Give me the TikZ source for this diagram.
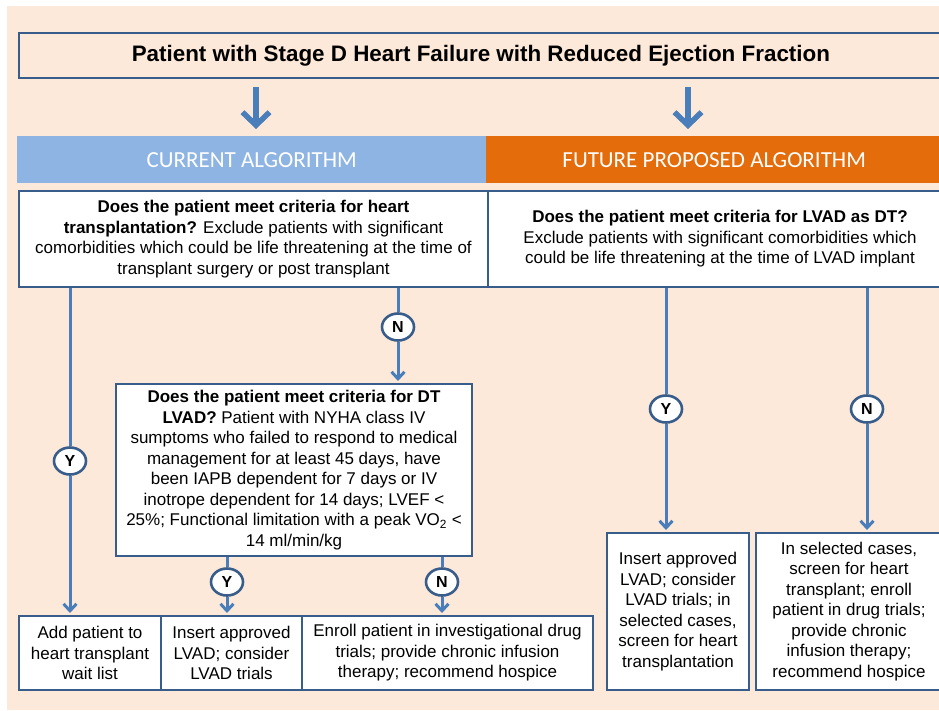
\documentclass[tikz,border=0pt]{standalone}
\usepackage{fontspec}
\setmainfont{Liberation Sans}
\newfontfamily\bandfont{Carlito}
\usetikzlibrary{arrows.meta, shapes.geometric}
\definecolor{peach}{RGB}{253,233,217}
\definecolor{boxblue}{RGB}{56,93,138}
\definecolor{lineblue}{RGB}{74,126,187}
\definecolor{bandblue}{RGB}{142,180,227}
\definecolor{bandorange}{RGB}{228,108,10}
\tikzset{
    box/.style={draw=boxblue, line width=2pt, fill=white, align=center, anchor=north west, inner sep=0pt, font=\fontsize{17}{20.5}\selectfont},
    band/.style={anchor=north west, inner sep=0pt, minimum height=47pt, text=white, font=\bandfont\fontsize{23}{27}\selectfont},
    yn/.style={ellipse, draw=boxblue, line width=2.6pt, fill=white, inner sep=0pt, minimum width=32pt, minimum height=27pt, font=\bfseries\fontsize{16}{16}\selectfont},
    conn/.style={draw=lineblue, line width=3pt},
    connarrow/.style={conn, -{Straight Barb[length=7pt, width=13pt]}, shorten >=2pt},
    bigarrow/.style={draw=lineblue, line width=5.5pt, -{Straight Barb[length=13pt, width=27pt]}}
}

\begin{document}
\begin{tikzpicture}[x=1pt, y=-1pt]
    \clip (0, 0) rectangle (939, 710);
    \fill [white] (0, 0) rectangle (939, 710);
    \fill [peach] (7, 6) rectangle (939, 710);

    \node [box, fill=none, line width=1.8pt, minimum width=924pt, minimum height=45pt, font=\bfseries\fontsize{22.4}{26}\selectfont] (title) at (18, 32) {Patient with Stage D Heart Failure with Reduced Ejection Fraction};
    \node [band, fill=bandblue, minimum width=469pt] (cur) at (17, 136) {CURRENT ALGORITHM};
    \node [band, fill=bandorange, minimum width=456pt] (fut) at (486, 136) {FUTURE PROPOSED ALGORITHM};

    \node [box, minimum width=469pt, minimum height=96pt] (htx) at (18, 190) {\textbf{Does the patient meet criteria for heart}\\ \textbf{transplantation?} Exclude patients with significant\\ comorbidities which could be life threatening at the time of\\ transplant surgery or post transplant};
    \node [box, minimum width=464pt, minimum height=96pt] (lvq) at (487, 190) {\textbf{Does the patient meet criteria for LVAD as DT?}\\ Exclude patients with significant comorbidities which\\ could be life threatening at the time of LVAD implant};
    \node [box, minimum width=356pt, minimum height=172pt] (dt) at (115, 383) {\textbf{Does the patient meet criteria for DT}\\ \textbf{LVAD?} Patient with NYHA class IV\\ sumptoms who failed to respond to medical\\ management for at least 45 days, have\\ been IAPB dependent for 7 days or IV\\ inotrope dependent for 14 days; LVEF <\\ 25\%; Functional limitation with a peak VO\textsubscript{2} <\\ 14 ml/min/kg};

    \node [box, minimum width=142pt, minimum height=74pt] (wait) at (18, 615) {Add patient to\\ heart transplant\\ wait list};
    \node [box, minimum width=141pt, minimum height=74pt] (ins) at (160, 615) {Insert approved\\ LVAD; consider\\ LVAD trials};
    \node [box, minimum width=291pt, minimum height=74pt] (enr) at (301, 615) {Enroll patient in investigational drug\\ trials; provide chronic infusion\\ therapy; recommend hospice};
    \node [box, minimum width=142pt, minimum height=157pt] (lvins) at (606, 532) {Insert approved\\ LVAD; consider\\ LVAD trials; in\\ selected cases,\\ screen for heart\\ transplantation};
    \node [box, minimum width=186pt, minimum height=157pt] (sel) at (755, 532) {In selected cases,\\ screen for heart\\ transplant; enroll\\ patient in drug trials;\\ provide chronic\\ infusion therapy;\\ recommend hospice};

    \node [yn] (y1) at (70, 461) {Y};
    \node [yn] (n1) at (398, 327) {N};
    \node [yn] (y2) at (227, 582) {Y};
    \node [yn] (n2) at (442, 582) {N};
    \node [yn] (y3) at (666, 409) {Y};
    \node [yn] (n3) at (867, 409) {N};

    \coordinate (ca) at (256, 0);
    \coordinate (fa) at (688, 0);
    \draw [bigarrow, shorten <=8pt, shorten >=7pt] (title.south -| ca) -- (cur.north -| ca);
    \draw [bigarrow, shorten <=8pt, shorten >=7pt] (title.south -| fa) -- (fut.north -| fa);

    \draw [conn] (htx.south -| y1) -- (y1);
    \draw [connarrow] (y1) -- (wait.north -| y1);
    \draw [conn] (htx.south -| n1) -- (n1);
    \draw [connarrow] (n1) -- (dt.north -| n1);
    \draw [conn] (dt.south -| y2) -- (y2);
    \draw [connarrow] (y2) -- (ins.north -| y2);
    \draw [conn] (dt.south -| n2) -- (n2);
    \draw [connarrow] (n2) -- (enr.north -| n2);
    \draw [conn] (lvq.south -| y3) -- (y3);
    \draw [connarrow] (y3) -- (lvins.north -| y3);
    \draw [conn] (lvq.south -| n3) -- (n3);
    \draw [connarrow] (n3) -- (sel.north -| n3);
\end{tikzpicture}
\end{document}
